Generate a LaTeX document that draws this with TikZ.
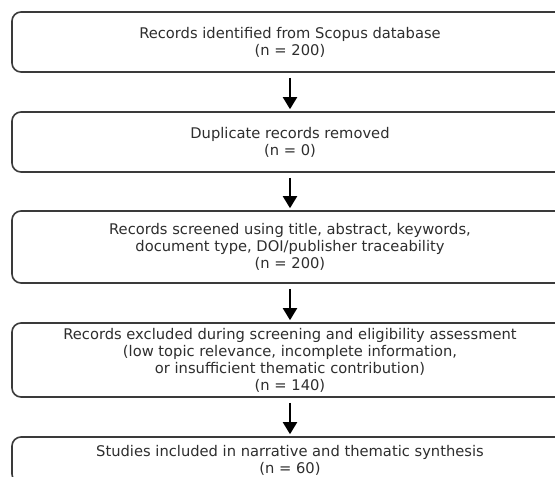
\documentclass[tikz,border=0pt]{standalone}
\usepackage{fontspec}
\setmainfont{DejaVu Sans}
\usetikzlibrary{arrows.meta}
\definecolor{boxline}{HTML}{3A3A3A}
\definecolor{txt}{HTML}{2E2E2E}
\tikzset{
  stagebox/.style={draw=boxline, line width=1.6pt, rounded corners=9pt, fill=white,
    minimum width=556pt, inner sep=0pt, align=center, text=txt,
    font=\fontsize{14.7}{17}\selectfont},
  flowarrow/.style={-{Triangle[length=12pt,width=14pt]}, line width=1.9pt, draw=black, shorten <=5pt, shorten >=2pt}
}
\begin{document}
\begin{tikzpicture}[x=1pt,y=1pt]
\useasboundingbox (0,0) rectangle (555,-477);
\fill[white] (0,0) rectangle (555,-477);
\clip (0,0) rectangle (555,-477);
\node[stagebox, minimum height=60pt] (b1) at (290,-42) {Records identified from Scopus database\\(n = 200)};
\node[stagebox, minimum height=60pt] (b2) at (290,-142) {Duplicate records removed\\(n = 0)};
\node[stagebox, minimum height=72pt] (b3) at (290,-247) {Records screened using title, abstract, keywords,\\document type, DOI/publisher traceability\\(n = 200)};
\node[stagebox, minimum height=74pt] (b4) at (290,-360) {Records excluded during screening and eligibility assessment\\(low topic relevance, incomplete information,\\or insufficient thematic contribution)\\(n = 140)};
\node[stagebox, minimum height=46pt] (b5) at (290,-460) {Studies included in narrative and thematic synthesis\\(n = 60)};
\draw[flowarrow] (b1.south) -- (b2.north);
\draw[flowarrow] (b2.south) -- (b3.north);
\draw[flowarrow] (b3.south) -- (b4.north);
\draw[flowarrow] (b4.south) -- (b5.north);
\end{tikzpicture}
\end{document}
